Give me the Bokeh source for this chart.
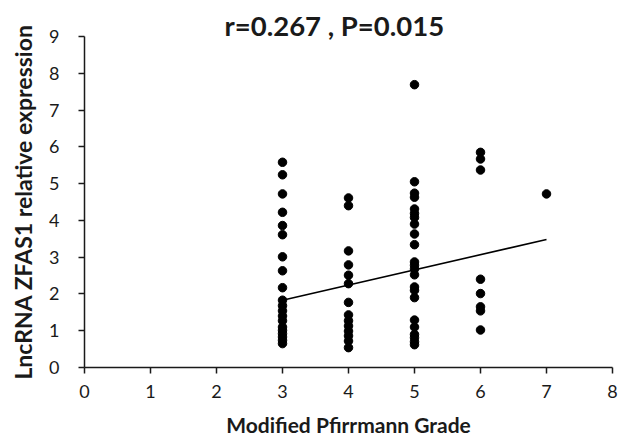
from bokeh.plotting import figure
from bokeh.models import Range1d, Title
from bokeh.embed import file_html
from bokeh.resources import INLINE

# Data
grade3 = [5.58, 5.24, 4.72, 4.22, 3.86, 3.61, 3.01, 2.63, 2.17, 1.83, 1.68, 1.54,
          1.40, 1.27, 1.10, 1.01, 0.92, 0.83, 0.74, 0.65]
grade4 = [4.61, 4.40, 3.17, 2.79, 2.51, 2.28, 1.77, 1.43, 1.27, 1.13, 0.99, 0.86,
          0.72, 0.54]
grade5 = [7.69, 5.05, 4.74, 4.63, 4.31, 4.19, 4.08, 3.90, 3.63, 3.34, 2.87, 2.78,
          2.68, 2.52, 2.19, 2.10, 1.90, 1.29, 1.10, 0.90, 0.81, 0.70, 0.62]
grade6 = [5.85, 5.67, 5.37, 2.40, 2.01, 1.65, 1.54, 1.02]
grade7 = [4.72]
trend_x = [3, 7]
trend_y = [1.83, 3.48]
x_ticks = [0, 1, 2, 3, 4, 5, 6, 7, 8]
y_ticks = [0, 1, 2, 3, 4, 5, 6, 7, 8, 9]
title_text = "r=0.267 , P=0.015"
x_label = "Modified Pfirrmann Grade"
y_label = "LncRNA ZFAS1 relative expression"

xs, ys = [], []
for g, vals in zip([3, 4, 5, 6, 7], [grade3, grade4, grade5, grade6, grade7]):
    xs += [g] * len(vals)
    ys += vals

FONT = "Lato"
INK = "#1a1a1a"

p = figure(width=618, height=440, output_backend="svg", toolbar_location=None,
           x_range=Range1d(0, 8), y_range=Range1d(0, 9),
           min_border_left=84, min_border_right=6, min_border_top=36,
           min_border_bottom=73)
p.outline_line_color = None
p.xgrid.visible = False
p.ygrid.visible = False
p.background_fill_color = "white"
p.border_fill_color = "white"

p.line(trend_x, trend_y, line_color="black", line_width=1.6)
p.scatter(xs, ys, size=8.5, fill_color="black", line_color="black")

for ax in (p.xaxis[0], p.yaxis[0]):
    ax.axis_line_color = INK
    ax.axis_line_width = 1.5
    ax.major_tick_line_color = INK
    ax.major_tick_line_width = 1.5
    ax.major_tick_out = 6
    ax.major_tick_in = 0
    ax.minor_tick_line_color = None
    ax.major_label_text_font = FONT
    ax.major_label_text_font_size = "18px"
    ax.major_label_text_color = INK
    ax.axis_label_text_font = FONT
    ax.axis_label_text_font_style = "bold"
    ax.axis_label_text_color = INK

p.xaxis.ticker = x_ticks
p.yaxis.ticker = y_ticks
p.xaxis.axis_label = x_label
p.yaxis.axis_label = y_label
p.xaxis.axis_label_text_font_size = "21px"
p.yaxis.axis_label_text_font_size = "23px"
p.xaxis.major_label_standoff = 11
p.yaxis.major_label_standoff = 19
p.xaxis.axis_label_standoff = 11
p.yaxis.axis_label_standoff = 9

p.add_layout(Title(text=title_text, align="left", offset=140, standoff=-10,
                   text_font=FONT, text_font_style="bold",
                   text_font_size="27.5px", text_color=INK), "above")

open("out.html", "w").write(file_html(p, INLINE))
